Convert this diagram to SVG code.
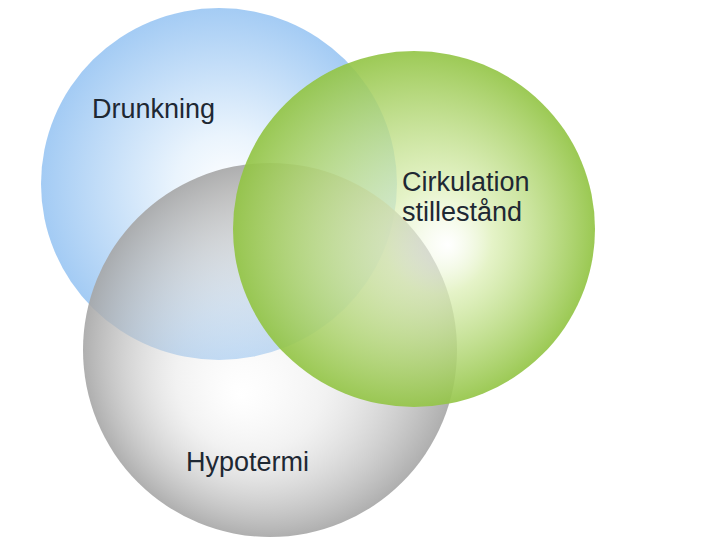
<svg xmlns="http://www.w3.org/2000/svg" width="720" height="540" viewBox="0 0 720 540">
<defs>
<radialGradient id="gBlue" gradientUnits="userSpaceOnUse" cx="219" cy="184" r="178" fx="232" fy="190">
<stop offset="0" stop-color="#ffffff"/>
<stop offset="0.3" stop-color="#eaf4fd"/>
<stop offset="1" stop-color="#a3cbf4"/>
</radialGradient>
<radialGradient id="gGreen" gradientUnits="userSpaceOnUse" cx="414" cy="229" r="181" fx="448" fy="245">
<stop offset="0" stop-color="#ffffff" stop-opacity="0.5"/>
<stop offset="0.3" stop-color="#dcefb5" stop-opacity="0.75"/>
<stop offset="1" stop-color="#92c444" stop-opacity="0.92"/>
</radialGradient>
<radialGradient id="gGray" gradientUnits="userSpaceOnUse" cx="270" cy="350" r="187" fx="240" fy="395">
<stop offset="0" stop-color="#ffffff" stop-opacity="0.3"/>
<stop offset="0.4" stop-color="#e2e2e2" stop-opacity="0.45"/>
<stop offset="1" stop-color="#a6a6a6" stop-opacity="0.9"/>
</radialGradient>
<style>
.lbl{font-family:"Liberation Sans",Arial,sans-serif;font-size:27px;fill:#1e2833}
</style>
</defs>
<rect width="720" height="540" fill="#ffffff"/>
<g id="drunkning">
<ellipse cx="219" cy="184" rx="178" ry="176" fill="url(#gBlue)"/>
</g>
<g id="hypotermi">
<ellipse cx="270" cy="350" rx="187" ry="187" fill="url(#gGray)"/>
</g>
<g id="cirkulation">
<ellipse cx="414" cy="229" rx="181" ry="178" fill="url(#gGreen)"/>
</g>
<g id="labels">
<text class="lbl" x="92" y="118">Drunkning</text>
<text class="lbl" x="402" y="191">Cirkulation</text>
<text class="lbl" x="402" y="221">stillestånd</text>
<text class="lbl" x="186" y="471">Hypotermi</text>
</g>
<g id="connectors"/>
</svg>
